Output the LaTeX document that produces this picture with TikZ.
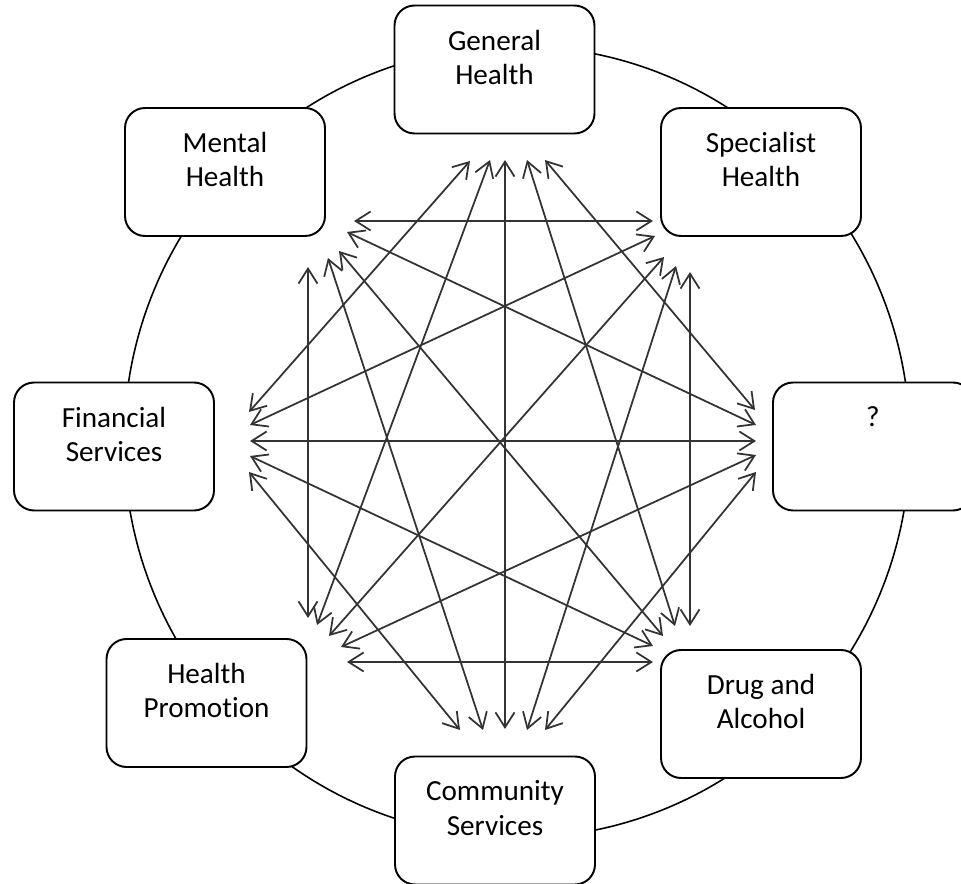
\documentclass[tikz,border=0pt]{standalone}
\usepackage{fontspec}
\setmainfont{Carlito}[Ligatures=NoCommon]
\usetikzlibrary{arrows.meta,calc}

\begin{document}
\begin{tikzpicture}[x=0.02cm, y=-0.02cm,
                        comp/.style   ={rectangle, rounded corners=4mm, draw=black, line width=1.1pt, fill=white, minimum width=4cm, minimum height=2.56cm},
                        caption/.style={rectangle, inner sep=0, align=center, anchor=north, font=\fontsize{16.6}{19.4}\selectfont},
                        ring/.style   ={draw=black, line width=0.9pt},
                        link/.style   ={<->, >={Straight Barb[length=3mm, width=3.8mm]}, draw, line width=1pt, color=black!80}]

      \useasboundingbox (0,0) rectangle (961,884);
      \coordinate (toff) at(0, 25);
      \path[ring] (517,442) ellipse [x radius=7.86cm, y radius=7.92cm];
      \node[comp] at(494.5, 69.5) (gen) {};
      \node[comp] at(761, 172)    (spe) {};
      \node[comp] at(873, 446.5)  (unk) {};
      \node[comp] at(761, 714)    (dru) {};
      \node[comp] at(495, 820.5)  (com) {};
      \node[comp] at(206.5, 703)  (pro) {};
      \node[comp] at(114, 446.5)  (fin) {};
      \node[comp] at(225, 172)    (men) {};
      \node[caption] at($(gen.north)+(toff)$) (gentxt) {General\\Health};
      \node[caption] at($(spe.north)+(toff)$) (spetxt) {Specialist\\Health};
      \node[caption] at($(unk.north)+(toff)$) (unktxt) {?};
      \node[caption] at($(dru.north)+(toff)$) (drutxt) {Drug and\\Alcohol};
      \node[caption] at($(com.north)+(toff)$) (comtxt) {Community\\Services};
      \node[caption] at($(pro.north)+(toff)$) (protxt) {Health\\Promotion};
      \node[caption] at($(fin.north)+(toff)$) (fintxt) {Financial\\Services};
      \node[caption] at($(men.north)+(toff)$) (mentxt) {Mental\\Health};
      % arrow ends, one per pair
      \coordinate (genfin) at(470, 161);
      \coordinate (genpro) at(490, 160);
      \coordinate (gencom) at(505, 160);
      \coordinate (gendru) at(527, 160);
      \coordinate (genunk) at(545, 160);
      \coordinate (spemen) at(653, 221);
      \coordinate (spefin) at(655, 236);
      \coordinate (spepro) at(664, 257);
      \coordinate (specom) at(676, 266);
      \coordinate (spedru) at(690, 272);
      \coordinate (unkgen) at(755, 410);
      \coordinate (unkmen) at(756, 425);
      \coordinate (unkfin) at(756, 441);
      \coordinate (unkpro) at(756, 455);
      \coordinate (unkcom) at(756, 472);
      \coordinate (druspe) at(690, 626);
      \coordinate (drugen) at(675, 626);
      \coordinate (drumen) at(663, 636);
      \coordinate (drufin) at(653, 646);
      \coordinate (drupro) at(653, 662);
      \coordinate (comfin) at(460, 730);
      \coordinate (commen) at(483, 730);
      \coordinate (comgen) at(505, 729);
      \coordinate (comspe) at(527, 730);
      \coordinate (comunk) at(545, 730);
      \coordinate (promen) at(308, 618);
      \coordinate (progen) at(317, 625);
      \coordinate (prospe) at(329, 636);
      \coordinate (prounk) at(341, 647);
      \coordinate (prodru) at(347, 662);
      \coordinate (fingen) at(249, 412);
      \coordinate (finspe) at(250, 425);
      \coordinate (finunk) at(250, 441);
      \coordinate (findru) at(250, 456);
      \coordinate (fincom) at(249, 472);
      \coordinate (menpro) at(308, 267);
      \coordinate (mencom) at(328, 258);
      \coordinate (mendru) at(339, 251);
      \coordinate (menunk) at(347, 232);
      \coordinate (menspe) at(354, 221);
      \path[link] (genunk) -- (unkgen);
      \path[link] (spedru) -- (druspe);
      \path[link] (unkcom) -- (comunk);
      \path[link] (drupro) -- (prodru);
      \path[link] (comfin) -- (fincom);
      \path[link] (promen) -- (menpro);
      \path[link] (fingen) -- (genfin);
      \path[link] (menspe) -- (spemen);
      \path[link] (gendru) -- (drugen);
      \path[link] (specom) -- (comspe);
      \path[link] (unkpro) -- (prounk);
      \path[link] (drufin) -- (findru);
      \path[link] (commen) -- (mencom);
      \path[link] (progen) -- (genpro);
      \path[link] (finspe) -- (spefin);
      \path[link] (menunk) -- (unkmen);
      \path[link] (gencom) -- (comgen);
      \path[link] (spepro) -- (prospe);
      \path[link] (unkfin) -- (finunk);
      \path[link] (drumen) -- (mendru);
    \end{tikzpicture}
\end{document}
